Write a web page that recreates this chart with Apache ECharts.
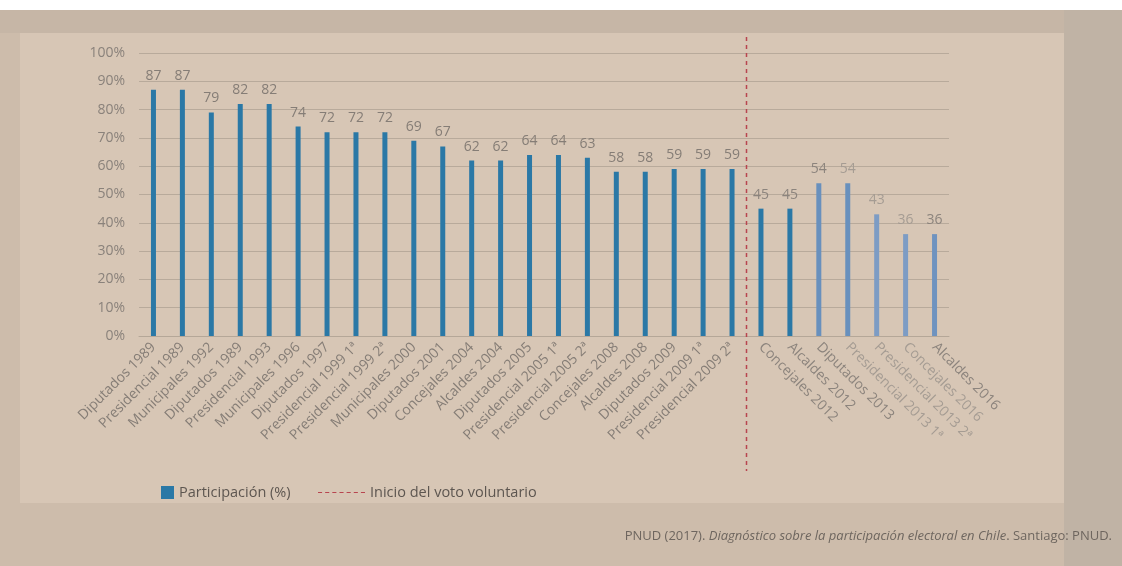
<!DOCTYPE html>
<html>
<head>
<meta charset="utf-8">
<script src="https://cdn.jsdelivr.net/npm/echarts@6/dist/echarts.min.js"></script>
<style>
html,body{margin:0;padding:0;background:#cdbcab;}
#c{width:1122px;height:566px;}
</style>
</head>
<body>
<div id="c"></div>
<script>
const categories = ['Diputados 1989','Presidencial 1989','Municipales 1992','Diputados 1989','Presidencial 1993','Municipales 1996','Diputados 1997','Presidencial 1999 1ª','Presidencial 1999 2ª','Municipales 2000','Diputados 2001','Concejales 2004','Alcaldes 2004','Diputados 2005','Presidencial 2005 1ª','Presidencial 2005 2ª','Concejales 2008','Alcaldes 2008','Diputados 2009','Presidencial 2009 1ª','Presidencial 2009 2ª','Concejales 2012','Alcaldes 2012','Diputados 2013','Presidencial 2013 1ª','Presidencial 2013 2ª','Concejales 2016','Alcaldes 2016'];
const participacion = [87,87,79,82,82,74,72,72,72,69,67,62,62,64,64,63,58,58,59,59,59,45,45,54,54,43,36,36];
const yTicks = [0,10,20,30,40,50,60,70,80,90,100];
const voluntaryStartIndex = 21; // first election with voluntary voting

const barColors = categories.map((c,i)=> i < 23 ? '#2a78a6' : (i < 25 ? '#6890bd' : (i===27 ? '#6f93bf' : '#7d9cc4')));
const labelColor = (i)=> i < 21 ? '#857d76' : (i===24||i===25||i===26 ? '#a59c93' : '#8c847d');

const chart = echarts.init(document.getElementById('c'));
const FONT = '"Open Sans", "Noto Sans", sans-serif';
const dashIcon = 'path://M0 0h4v1H0z M7 0h4v1H7z M14 0h4v1H14z M21 0h4v1H21z M28 0h4v1H28z M35 0h4v1H35z M42 0h4v1H42z';

const option = {
  backgroundColor: '#cdbcab',
  animation: false,
  textStyle: {fontFamily: FONT},
  graphic: [
    {type:'rect', z:-10, shape:{x:0,y:0,width:1122,height:10}, style:{fill:'#ffffff'}},
    {type:'rect', z:-10, shape:{x:0,y:10,width:1122,height:23}, style:{fill:'#c6b6a6'}},
    {type:'rect', z:-9, shape:{x:20,y:33,width:1044,height:470}, style:{fill:'#d7c6b5'}},
    {type:'rect', z:-9, shape:{x:1064,y:10,width:58,height:556}, style:{fill:'#c0b3a5'}},
    {type:'text', left: 'auto', right: 10, top: 530, style:{
      text: '{n|PNUD (2017). }{i|Diagnóstico sobre la participación electoral en Chile}{n|. Santiago: PNUD.}',
      rich: {
        n:{fontFamily: FONT, fontSize: 13, fill:'#6e665f'},
        i:{fontFamily: FONT, fontSize: 13, fontStyle:'italic', fill:'#6e665f'}
      }
    }}
  ],
  grid: {left: 139, right: 173, top: 53, bottom: 230, containLabel: false},
  legend: [
    {data:['Participación (%)'], left: 156, top: 480, icon:'rect', itemWidth: 13, itemHeight: 13, itemGap: 6,
     textStyle:{color:'#5d5650', fontSize: 14.5, fontFamily: FONT}},
    {data:[{name:'Inicio del voto voluntario', icon: dashIcon}], left: 313, top: 480, itemWidth: 47, itemHeight: 2,
     textStyle:{color:'#5d5650', fontSize: 14.5, fontFamily: FONT}}
  ],
  xAxis: [
    {type:'category', data: categories, position:'bottom',
     axisLine:{show:true, lineStyle:{color:'#b5a798', width:1}}, axisTick:{show:false},
     axisLabel:{interval:0, rotate:45, margin:9, fontSize:14, fontFamily: FONT,
       color:(v,i)=>labelColor(i),
       formatter:(v,i)=> i < voluntaryStartIndex ? v : ''}},
    {type:'category', data: categories, position:'bottom', offset:0,
     axisLine:{show:false}, axisTick:{show:false}, splitLine:{show:false},
     axisLabel:{interval:0, rotate:-45, margin:9, fontSize:14, fontFamily: FONT,
       color:(v,i)=>labelColor(i),
       formatter:(v,i)=> i >= voluntaryStartIndex ? v : ''}}
  ],
  yAxis: {type:'value', min:0, max:100, interval:10,
    axisLine:{show:false}, axisTick:{show:false},
    splitLine:{lineStyle:{color:'#b8aa9b', width:1}},
    axisLabel:{margin:14, fontSize:14, fontFamily: FONT, color:'#8a827b',
      formatter:(v)=> yTicks.includes(v) ? v + '%' : ''}},
  series: [
    {name:'Participación (%)', type:'bar', barWidth:5, xAxisIndex:0,
     itemStyle:{color:'#2a78a6'},
     data: participacion.map((v,i)=>({value:v, itemStyle:{color:barColors[i]},
        label:{color: labelColor(i)}})),
     label:{show:true, position:'top', distance:7, fontSize:14, fontFamily: FONT, color:'#857d76'}},
    {name:'Inicio del voto voluntario', type:'line', data:[], symbol:'none',
     lineStyle:{color:'#b8454f', type:[3,3], width:1.5}, itemStyle:{color:'#b8454f'}}
  ]
};
chart.setOption(option);

const xa = chart.convertToPixel({xAxisIndex:0}, voluntaryStartIndex - 1);
const xb = chart.convertToPixel({xAxisIndex:0}, voluntaryStartIndex);
const xm = (xa + xb) / 2;
const yTop = chart.convertToPixel({yAxisIndex:0}, 100) - 16;
const yBase = chart.convertToPixel({yAxisIndex:0}, 0);
option.graphic.push({type:'line', z:5, shape:{x1:xm, y1:yTop, x2:xm, y2:yBase + 135},
  style:{stroke:'#b8454f', lineWidth:1.5, lineDash:[4,4]}});
chart.setOption({graphic: option.graphic});
</script>
</body>
</html>
